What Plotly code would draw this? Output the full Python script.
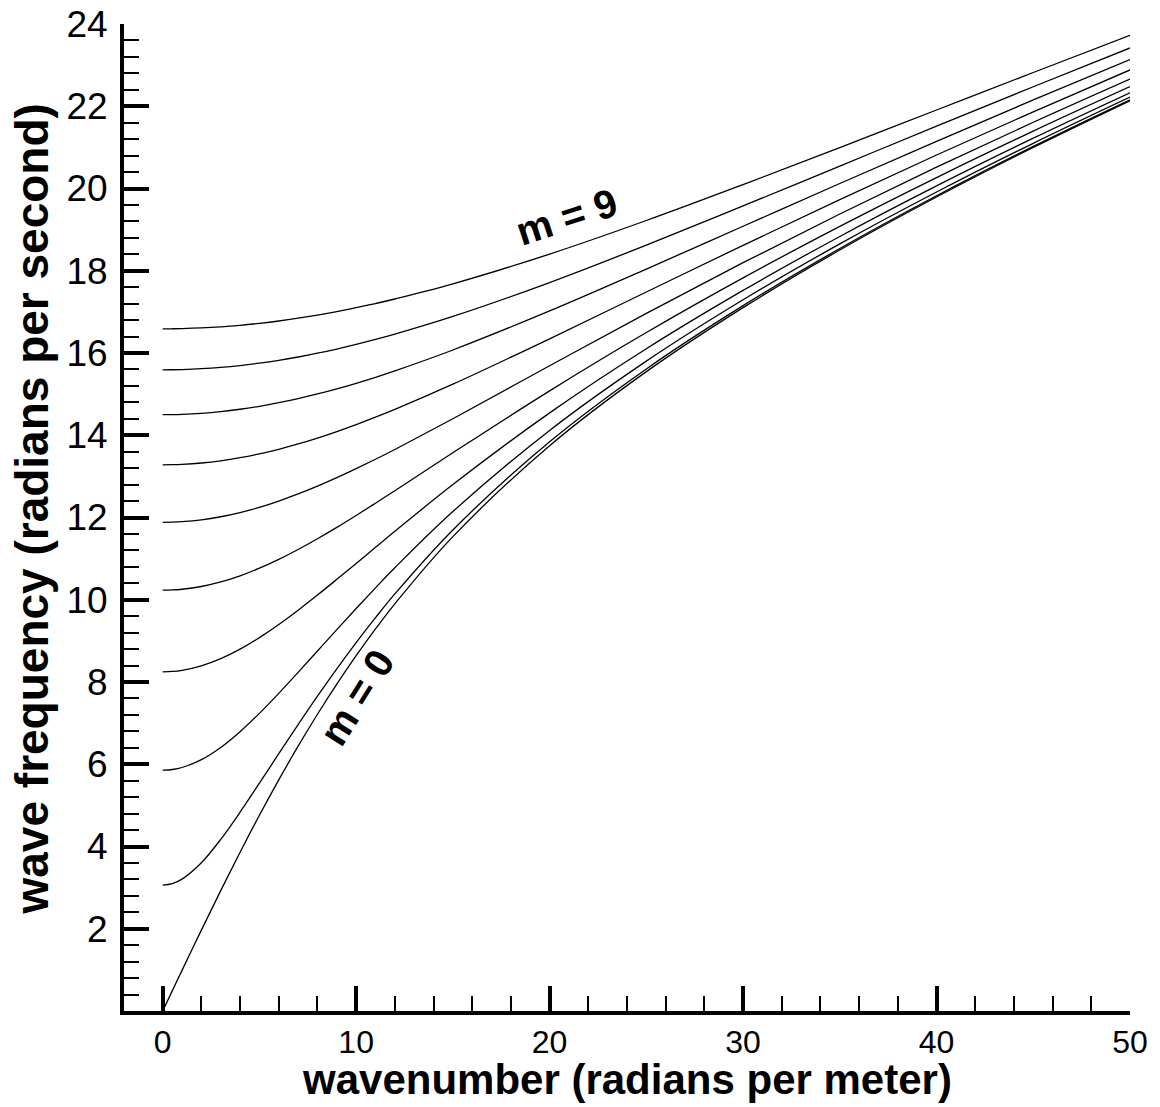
import plotly.graph_objects as go

# wavenumber samples (radians per meter)
k = [0, 0.5, 1, 2, 3, 4, 5, 6, 7, 8, 9, 10, 11, 12, 15, 20, 25, 30, 35, 40, 45, 50]

# wave frequency (radians per second) read for each mode m
omega_m0 = [0.000, 0.495, 0.988, 1.967, 2.927, 3.859, 4.759, 5.620, 6.439, 7.215, 7.949, 8.639, 9.290, 9.901,
            11.535, 13.746, 15.547, 17.104, 18.504, 19.792, 20.997, 22.135]
omega_m1 = [3.060, 3.098, 3.207, 3.605, 4.173, 4.834, 5.540, 6.256, 6.966, 7.657, 8.322, 8.958, 9.563, 10.141,
            11.697, 13.842, 15.613, 17.152, 18.541, 19.823, 21.023, 22.157]
omega_m2 = [5.856, 5.872, 5.921, 6.111, 6.409, 6.792, 7.238, 7.724, 8.234, 8.754, 9.275, 9.788, 10.290, 10.778,
            12.145, 14.118, 15.803, 17.294, 18.653, 19.914, 21.099, 22.222]
omega_m3 = [8.247, 8.256, 8.284, 8.392, 8.566, 8.798, 9.079, 9.398, 9.746, 10.114, 10.496, 10.884, 11.274, 11.663,
            12.800, 14.544, 16.104, 17.522, 18.834, 20.063, 21.224, 22.329]
omega_m4 = [10.232, 10.238, 10.255, 10.322, 10.433, 10.582, 10.767, 10.982, 11.222, 11.483, 11.760, 12.050, 12.348, 12.651,
            13.574, 15.080, 16.498, 17.827, 19.079, 20.266, 21.396, 22.477]
omega_m5 = [11.882, 11.886, 11.898, 11.943, 12.018, 12.120, 12.248, 12.400, 12.572, 12.762, 12.968, 13.187, 13.416, 13.654,
            14.401, 15.690, 16.964, 18.196, 19.381, 20.518, 21.611, 22.662]
omega_m6 = [13.282, 13.285, 13.293, 13.325, 13.379, 13.454, 13.548, 13.659, 13.788, 13.932, 14.090, 14.260, 14.440, 14.629,
            15.241, 16.344, 17.483, 18.618, 19.731, 20.814, 21.865, 22.883]
omega_m7 = [14.501, 14.503, 14.509, 14.534, 14.575, 14.632, 14.704, 14.791, 14.891, 15.004, 15.129, 15.264, 15.410, 15.565,
            16.073, 17.023, 18.041, 19.082, 20.122, 21.148, 22.154, 23.136]
omega_m8 = [15.591, 15.593, 15.598, 15.618, 15.650, 15.695, 15.753, 15.822, 15.903, 15.995, 16.097, 16.209, 16.329, 16.458,
            16.888, 17.713, 18.623, 19.576, 20.546, 21.515, 22.474, 23.418]
omega_m9 = [16.588, 16.589, 16.593, 16.609, 16.636, 16.673, 16.721, 16.778, 16.846, 16.922, 17.007, 17.101, 17.203, 17.313,
            17.681, 18.405, 19.222, 20.095, 20.996, 21.909, 22.821, 23.726]

modes = [omega_m0, omega_m1, omega_m2, omega_m3, omega_m4,
         omega_m5, omega_m6, omega_m7, omega_m8, omega_m9]

x_ticks = [0, 10, 20, 30, 40, 50]
y_ticks = [2, 4, 6, 8, 10, 12, 14, 16, 18, 20, 22, 24]

x_title = "wavenumber (radians per meter)"
y_title = "wave frequency (radians per second)"

fig = go.Figure()
for i, w in enumerate(modes):
    fig.add_trace(go.Scatter(x=k, y=w, mode="lines", name=f"m = {i}",
                             line=dict(color="black", width=1.3, shape="spline"),
                             showlegend=False))

font_family = "Liberation Sans, Arial, sans-serif"

fig.update_layout(
    width=1160, height=1107,
    margin=dict(l=124, r=30, t=24, b=96),
    paper_bgcolor="white", plot_bgcolor="white",
    font=dict(family=font_family, color="black"),
)

fig.update_xaxes(
    range=[-2, 50], showgrid=False, zeroline=False, automargin=False,
    showline=True, linecolor="black", linewidth=4,
    tickmode="array", tickvals=x_ticks, ticktext=[str(v) for v in x_ticks],
    ticks="inside", ticklen=25, tickwidth=3.5, tickcolor="black",
    tickfont=dict(size=32, family=font_family), ticklabeloverflow="allow",
    minor=dict(tickmode="linear", tick0=0, dtick=2, ticks="inside",
               ticklen=15, tickwidth=1.5, tickcolor="black", showgrid=False),
)
fig.update_yaxes(
    range=[0, 24], showgrid=False, zeroline=False, automargin=False,
    showline=True, linecolor="black", linewidth=4,
    tickmode="array", tickvals=y_ticks, ticktext=[str(v) for v in y_ticks],
    ticks="inside", ticklen=25, tickwidth=4, tickcolor="black",
    tickfont=dict(size=37, family=font_family), ticklabelstandoff=5,
    ticklabeloverflow="allow",
    minor=dict(tickmode="linear", tick0=0, dtick=0.4, ticks="inside",
               ticklen=15, tickwidth=1.5, tickcolor="black", showgrid=False),
)

# axis titles
fig.add_annotation(x=0.5, y=0, xref="paper", yref="paper", text=f"<b>{x_title}</b>",
                   showarrow=False, xanchor="center", yanchor="middle", yshift=-68,
                   font=dict(size=42, family=font_family, color="black"))
fig.add_annotation(x=0, y=0.5, xref="paper", yref="paper", text=f"<b>{y_title}</b>",
                   showarrow=False, textangle=-90, xanchor="center", yanchor="middle",
                   xshift=-93, yshift=8,
                   font=dict(size=46, family=font_family, color="black"))

# mode labels
fig.add_annotation(x=20.85, y=19.3, xref="x", yref="y", text="<b>m = 9</b>",
                   showarrow=False, textangle=-18,
                   font=dict(size=40, family=font_family, color="black"))
fig.add_annotation(x=10.0, y=7.62, xref="x", yref="y", text="<b>m = 0</b>",
                   showarrow=False, textangle=-58,
                   font=dict(size=40, family=font_family, color="black"))

# remove the default 8px page margin so the figure fills the window exactly
fig.write_html("out.html",
               config={"displayModeBar": False},
               post_script="document.body.style.margin='0';document.body.style.overflow='hidden';")
